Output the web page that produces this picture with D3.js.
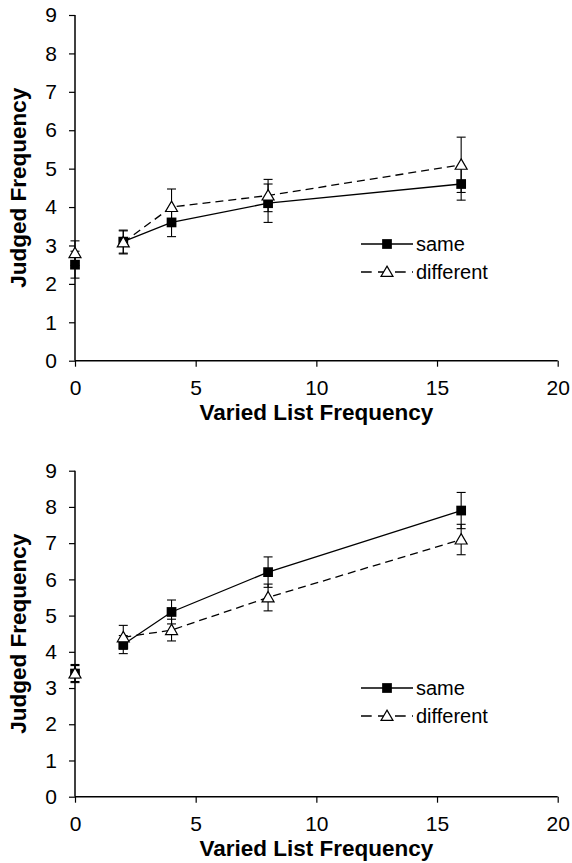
<!DOCTYPE html>
<html>
<head>
<meta charset="utf-8">
<script src="https://cdn.jsdelivr.net/npm/d3@7"></script>
<style>
  body { margin: 0; background: #fff; }
  svg { display: block; }
  text { font-family: "Liberation Sans", Arial, sans-serif; fill: #000; }
</style>
</head>
<body>
<script>
const xVals = [0, 2, 4, 8, 16]
const xTicks = [0, 5, 10, 15, 20]
const yTicks = [0, 1, 2, 3, 4, 5, 6, 7, 8, 9]
const seriesNames = ['same', 'different']

// upper panel
const topSame = [2.5, 3.1, 3.6, 4.1, 4.6]
const topSameErr = [0.35, 0.3, 0.37, 0.5, 0.42]
const topDiff = [2.8, 3.08, 4.0, 4.3, 5.1]
const topDiffErr = [0.32, 0.3, 0.47, 0.42, 0.72]

// lower panel
const botSame = [3.4, 4.2, 5.1, 6.2, 7.9]
const botSameErr = [0.25, 0.25, 0.33, 0.42, 0.5]
const botDiff = [3.4, 4.4, 4.6, 5.5, 7.1]
const botDiffErr = [0.22, 0.33, 0.3, 0.37, 0.42]

const width = 572
const height = 863

const svg = d3.select('body').append('svg')
  .attr('width', width)
  .attr('height', height)

function panel(top, bottom, same, sameErr, diff, diffErr, legendY) {
  const x = d3.scaleLinear().domain([0, 20]).range([75, 557.7])
  const y = d3.scaleLinear().domain([0, 9]).range([bottom, top])
  const g = svg.append('g')

  g.append('g')
    .attr('transform', `translate(0,${bottom})`)
    .call(d3.axisBottom(x).tickValues(xTicks).tickSize(6).tickPadding(13).tickFormat(d3.format('d')))
    .call((a) => {
      a.select('.domain').attr('stroke-width', 1.5).attr('d', `M${x(0)},0H${x(20)}`)
      a.selectAll('line').attr('stroke-width', 1.2)
      a.selectAll('text').style('font-size', '21px')
    })

  g.append('g')
    .attr('transform', `translate(${x(0)},0)`)
    .call(d3.axisLeft(y).tickValues(yTicks).tickSize(6).tickPadding(12))
    .call((a) => {
      a.select('.domain').attr('stroke-width', 1.5).attr('d', `M0,${y(0)}V${y(9)}`)
      a.selectAll('line').attr('stroke-width', 1.2)
      a.selectAll('text').style('font-size', '21px')
    })

  g.append('text')
    .attr('x', (x(0) + x(20)) / 2)
    .attr('y', bottom + 59)
    .attr('text-anchor', 'middle')
    .style('font-size', '22.5px')
    .style('font-weight', 'bold')
    .text('Varied List Frequency')

  g.append('text')
    .attr('transform', `translate(26,${(top + bottom) / 2}) rotate(-90)`)
    .attr('text-anchor', 'middle')
    .style('font-size', '22.5px')
    .style('font-weight', 'bold')
    .text('Judged Frequency')

  const series = [
    { name: seriesNames[0], vals: same, err: sameErr, dash: null },
    { name: seriesNames[1], vals: diff, err: diffErr, dash: '8,5' },
  ]

  // the 0 point stands alone; lines join 2..16
  const line = d3.line()
    .defined((d, i) => i > 0)
    .x((d, i) => x(xVals[i]))
    .y((d) => y(d))

  series.forEach((s) => {
    g.append('path')
      .attr('d', line(s.vals))
      .attr('fill', 'none')
      .attr('stroke', '#000')
      .attr('stroke-width', 1.3)
      .attr('stroke-dasharray', s.dash)
  })

  series.forEach((s) => {
    const eb = g.append('g').attr('stroke', '#000').attr('stroke-width', 1.1)
    s.vals.forEach((v, i) => {
      const cx = x(xVals[i])
      const hi = y(v + s.err[i])
      const lo = y(v - s.err[i])
      eb.append('line').attr('x1', cx).attr('x2', cx).attr('y1', hi).attr('y2', lo)
      eb.append('line').attr('x1', cx - 4.5).attr('x2', cx + 4.5).attr('y1', hi).attr('y2', hi)
      eb.append('line').attr('x1', cx - 4.5).attr('x2', cx + 4.5).attr('y1', lo).attr('y2', lo)
    })
  })

  const sq = d3.symbol().type(d3.symbolSquare).size(95)
  const tri = d3.symbol().type(d3.symbolTriangle).size(62)

  g.selectAll(null)
    .data(same)
    .enter()
    .append('path')
    .attr('d', sq)
    .attr('transform', (d, i) => `translate(${x(xVals[i])},${y(d)})`)
    .attr('fill', '#000')

  g.selectAll(null)
    .data(diff)
    .enter()
    .append('path')
    .attr('d', tri)
    .attr('transform', (d, i) => `translate(${x(xVals[i])},${y(d) + 1})`)
    .attr('fill', '#fff')
    .attr('stroke', '#000')
    .attr('stroke-width', 1.2)

  // legend
  const lg = g.append('g')
  series.forEach((s, i) => {
    const ly = legendY + i * 28
    lg.append('line')
      .attr('x1', 361).attr('x2', 413).attr('y1', ly).attr('y2', ly)
      .attr('stroke', '#000').attr('stroke-width', 1.3)
      .attr('stroke-dasharray', s.dash ? '10.7,6.3' : null)
    lg.append('path')
      .attr('d', i === 0 ? sq : tri)
      .attr('transform', `translate(387,${ly + (i === 0 ? 0 : 1)})`)
      .attr('fill', i === 0 ? '#000' : '#fff')
      .attr('stroke', i === 0 ? 'none' : '#000')
      .attr('stroke-width', 1.2)
    lg.append('text')
      .attr('x', 416)
      .attr('y', ly + 7)
      .style('font-size', '20px')
      .text(s.name)
  })
}

panel(15, 360.7, topSame, topSameErr, topDiff, topDiffErr, 244)
panel(470.7, 796.7, botSame, botSameErr, botDiff, botDiffErr, 688)
</script>
</body>
</html>
